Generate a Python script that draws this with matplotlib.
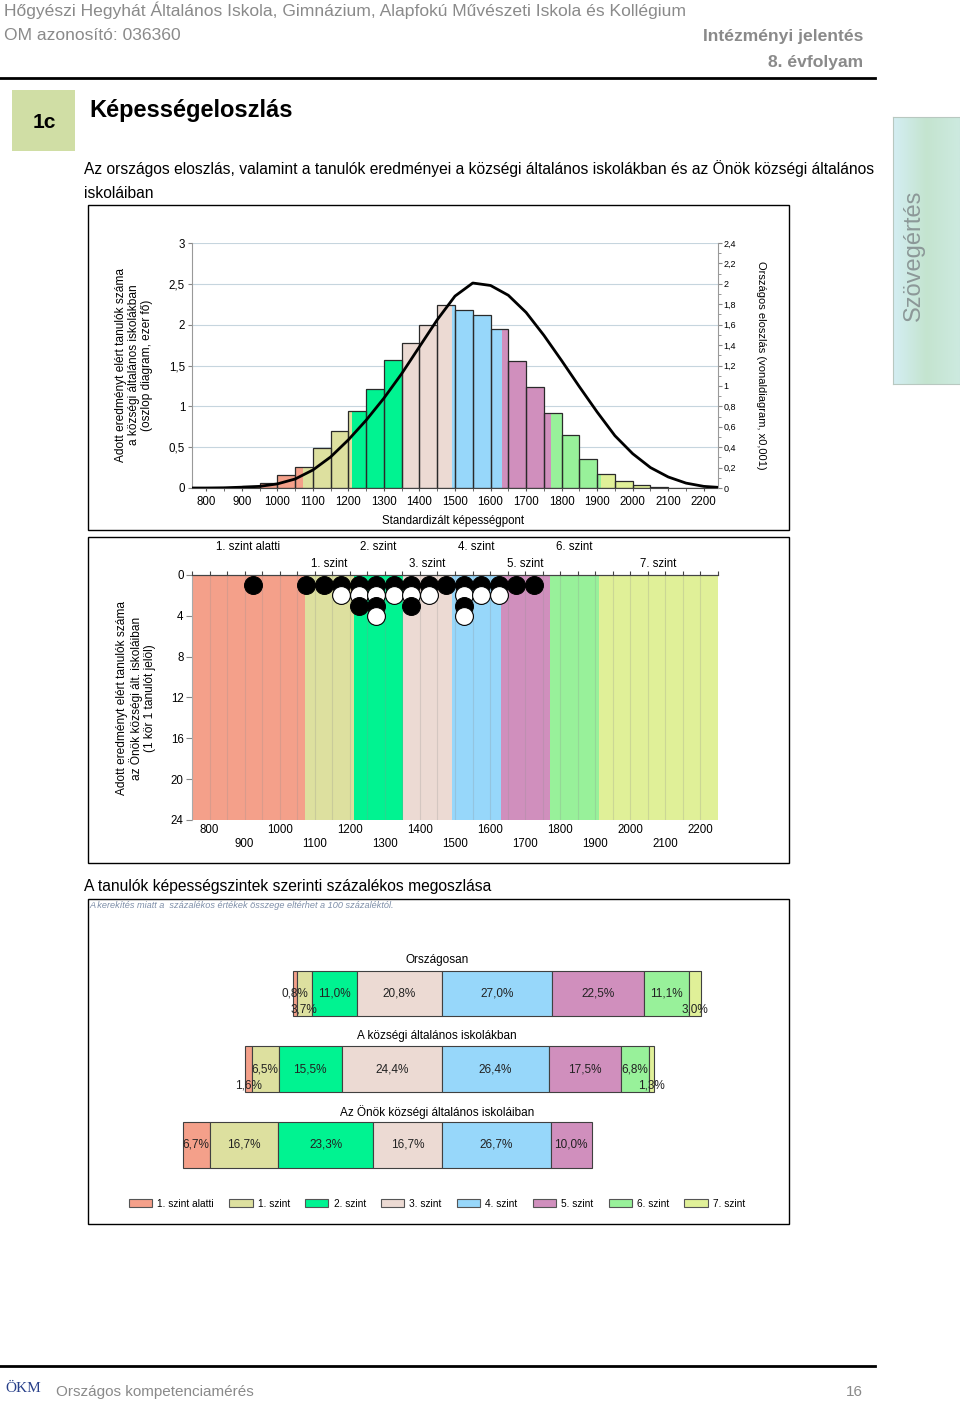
import numpy as np
import matplotlib
matplotlib.use("Agg")
import matplotlib.pyplot as plt
from matplotlib.patches import Rectangle, Patch
from matplotlib.lines import Line2D
from matplotlib.colors import LinearSegmentedColormap
from matplotlib.ticker import FuncFormatter, MultipleLocator
import matplotlib.transforms as mtrans

plt.rcParams['font.family'] = ['Liberation Sans', 'DejaVu Sans']

# ---- data ----
level_names = ['1. szint alatti', '1. szint', '2. szint', '3. szint',
               '4. szint', '5. szint', '6. szint', '7. szint']
level_colors = ['#f4a08a', '#dde09f', '#00f391', '#ecdad3',
                '#97d7fa', '#d08fbd', '#98f19a', '#e0f098']
level_bounds = [1071, 1211, 1351, 1491, 1631, 1771, 1911]

# histogram of the village schools (thousand students), 50-point bins
bin_start = list(range(900, 2200, 50))
bin_height = [0.02, 0.065, 0.16, 0.26, 0.49, 0.70, 0.94, 1.21, 1.57, 1.78,
              1.99, 2.24, 2.18, 2.12, 1.95, 1.56, 1.24, 0.92, 0.65, 0.355,
              0.175, 0.08, 0.035, 0.016, 0.006, 0.002]

# national distribution curve (right axis, x0.001)
curve_x = list(range(750, 2251, 50))
curve_y = [0.0, 0.0, 0.002, 0.008, 0.016, 0.04, 0.088, 0.176, 0.304, 0.472,
           0.664, 0.88, 1.12, 1.384, 1.648, 1.88, 2.008, 1.984, 1.888, 1.72,
           1.496, 1.248, 0.992, 0.744, 0.512, 0.336, 0.2, 0.108, 0.048, 0.016,
           0.004]

# students of the school (one circle each)
dot_x = [925, 1075, 1125, 1175, 1225, 1275, 1325, 1375, 1425, 1475,
         1525, 1575, 1625, 1675, 1725]
dot_count = [1, 1, 1, 2, 3, 4, 2, 3, 2, 1, 4, 2, 2, 1, 1]

# percentage distribution by level
row_titles = ['Országosan', 'A községi általános iskolákban',
              'Az Önök községi általános iskoláiban']
pct_orszagos = [0.8, 3.7, 11.0, 20.8, 27.0, 22.5, 11.1, 3.0]
pct_kozsegi = [1.6, 6.5, 15.5, 24.4, 26.4, 17.5, 6.8, 1.3]
pct_onok = [6.7, 16.7, 23.3, 16.7, 26.7, 10.0, 0.0, 0.0]
low_labels = [{1, 7}, {0, 7}, set()]

W, H = 960, 1409
fig = plt.figure(figsize=(W / 100, H / 100), dpi=100)


def rect(x0, y0, x1, y1):
    return [x0 / W, 1 - y1 / H, (x1 - x0) / W, (y1 - y0) / H]


def ftext(x, y, s, **kw):
    fig.text(x / W, 1 - y / H, s, **kw)


def hline(y, x0, x1, lw=2):
    fig.add_artist(Line2D([x0 / W, x1 / W], [1 - y / H] * 2, color='black', lw=lw))


def box(x0, y0, x1, y1):
    fig.add_artist(Rectangle((x0 / W, 1 - y1 / H), (x1 - x0) / W, (y1 - y0) / H,
                             transform=fig.transFigure, fill=False, lw=1, ec='black'))


comma = FuncFormatter(lambda v, p: f"{round(v, 2):g}".replace('.', ','))

# ---- page header ----
ftext(4, 10, 'Hőgyészi Hegyhát Általános Iskola, Gimnázium, Alapfokú Művészeti Iskola és Kollégium',
      fontsize=12.6, color='#8a8a8a', va='center')
ftext(4, 36, 'OM azonosító: 036360', fontsize=12.6, color='#8a8a8a', va='center')
ftext(863, 36, 'Intézményi jelentés', fontsize=12.6, color='#8a8a8a', va='center',
      ha='right', fontweight='bold')
ftext(863, 62, '8. évfolyam', fontsize=12.6, color='#8a8a8a', va='center',
      ha='right', fontweight='bold')
hline(78, 0, 875)

fig.add_artist(Rectangle((12 / W, 1 - 151 / H), 63 / W, 61 / H, transform=fig.transFigure,
                         color='#d0dea5', lw=0))
ftext(44, 122, '1c', fontsize=15, fontweight='bold', ha='center', va='center')
ftext(89, 111, 'Képességeloszlás', fontsize=17, fontweight='bold', va='center')
ftext(84, 169, 'Az országos eloszlás, valamint a tanulók eredményei a községi általános '
      'iskolákban és az Önök községi általános', fontsize=11.25, va='center')
ftext(84, 193, 'iskoláiban', fontsize=11.25, va='center')

# side tab
tab = fig.add_axes(rect(893, 117, 960, 384))
tab_cmap = LinearSegmentedColormap.from_list('tab', ['#d4eef3', '#c4e4cf', '#cdeae0'])
tab.imshow(np.linspace(0, 1, 64)[None, :], aspect='auto', cmap=tab_cmap)
tab.set_xticks([])
tab.set_yticks([])
for s in tab.spines.values():
    s.set_color('#b8c8c0')
ftext(914, 255, 'Szövegértés', fontsize=17, color='#8c9898', rotation=90,
      ha='center', va='center')

# ---- panel 1: histogram + national curve ----
box(88, 205, 789, 530)
ax = fig.add_axes(rect(192, 243, 718, 488))
for a, h in zip(bin_start, bin_height):
    cuts = [a] + [b for b in level_bounds if a < b < a + 50] + [a + 50]
    for p0, p1 in zip(cuts[:-1], cuts[1:]):
        lev = sum(1 for b in level_bounds if b <= p0)
        ax.bar(p0, h, width=p1 - p0, align='edge', color=level_colors[lev], lw=0, zorder=2)
    ax.bar(a, h, width=50, align='edge', fill=False, edgecolor='#2a2a2a', lw=0.9, zorder=3)
ax.set_xlim(760, 2240)
ax.set_ylim(0, 3)
ax.set_yticks(np.arange(0, 3.01, 0.5))
ax.yaxis.set_major_formatter(comma)
ax.set_xticks(range(800, 2201, 100))
ax.xaxis.set_minor_locator(MultipleLocator(50))
ax.grid(axis='y', color='#c6d5de', lw=0.8, zorder=0)
ax.tick_params(axis='y', labelsize=8.3, length=3, color='#888888', pad=2)
ax.tick_params(axis='x', which='both', labelsize=8.3, length=2, color='#555555', pad=4)
ax.spines['top'].set_visible(False)
ax.spines['left'].set_color('#999999')
ax.spines['right'].set_visible(False)
ax.spines['bottom'].set_color('#444444')

ax2 = ax.twinx()
ax2.plot(curve_x, curve_y, color='black', lw=2, zorder=4)
ax2.set_ylim(0, 2.4)
ax2.set_yticks(np.arange(0, 2.41, 0.2))
ax2.yaxis.set_minor_locator(MultipleLocator(0.1))
ax2.yaxis.set_major_formatter(comma)
ax2.tick_params(axis='y', labelsize=6.5, length=3, color='#888888', pad=1)
ax2.tick_params(axis='y', which='minor', length=2, color='#888888')
for s in ['top', 'left', 'bottom']:
    ax2.spines[s].set_visible(False)
ax2.spines['right'].set_color('#999999')

ftext(134, 365, 'Adott eredményt elért tanulók száma\na községi általános iskolákban\n'
      '(oszlop diagram, ezer fő)', fontsize=8.6, rotation=90, ha='center', va='center',
      multialignment='center', linespacing=1.15)
ftext(761, 365, 'Országos eloszlás (vonaldiagram, x0,001)', fontsize=8, rotation=270,
      ha='center', va='center')
ftext(453, 521, 'Standardizált képességpont', fontsize=8.3, ha='center', va='center')

# ---- panel 2: individual students ----
box(88, 537, 789, 863)
bx = fig.add_axes(rect(192, 575, 718, 820))
edges = [750] + level_bounds + [2250]
for i in range(len(level_colors)):
    bx.axvspan(edges[i], edges[i + 1], color=level_colors[i], lw=0, zorder=0)
for v in range(800, 2250, 50):
    bx.axvline(v, color='#8f8f8f', alpha=0.25, lw=0.8, zorder=1)
for x, n in zip(dot_x, dot_count):
    for k in range(1, n + 1):
        bx.scatter([x], [k], s=165, color='black' if k % 2 else 'white',
                   edgecolors='black', linewidths=0.8, zorder=3 + k)
bx.set_xlim(750, 2250)
bx.set_ylim(24, 0)
bx.set_yticks(range(0, 25, 4))
bx.set_xticks(range(800, 2201, 100))
bx.set_xticklabels([str(v) if v % 200 == 0 else '\n' + str(v) for v in range(800, 2201, 100)])
bx.tick_params(axis='x', length=0, labelsize=8.3, pad=3)
bx.tick_params(axis='y', labelsize=8.3, length=4, color='#888888', pad=2)
for s in ['right', 'bottom']:
    bx.spines[s].set_visible(False)
bx.spines['left'].set_color('#aaaaaa')
bx.spines['top'].set_color('#444444')
top = bx.secondary_xaxis('top')
top.set_xticks(range(750, 2251, 50))
top.tick_params(length=3, color='#444444', labeltop=False)
top.spines['top'].set_color('#444444')

for i, name in enumerate(level_names):
    xc = (edges[i] + edges[i + 1]) / 2
    yy = 1.115 if i % 2 == 0 else 1.045
    bx.text(xc, yy, name, transform=mtrans.blended_transform_factory(bx.transData, bx.transAxes),
            ha='center', va='center', fontsize=8.3)

ftext(136, 698, 'Adott eredményt elért tanulók száma\naz Önök községi ált. iskoláiban\n'
      '(1 kör 1 tanulót jelöl)', fontsize=8.6, rotation=90, ha='center', va='center',
      multialignment='center', linespacing=1.15)

# ---- panel 3: percentages by level ----
ftext(84, 887, 'A tanulók képességszintek szerinti százalékos megoszlása', fontsize=11.25,
      va='center')
box(88, 899, 789, 1224)
ftext(89, 905, 'A kerekítés miatt a  százalékos értékek összege eltérhet a 100 százaléktól.',
      fontsize=6.6, style='italic', color='#7d8ea8', va='center')
cx = fig.add_axes(rect(89, 900, 788, 1223))
cx.set_xlim((89 - 441.6) / 4.086, (788 - 441.6) / 4.086)
cx.set_ylim(3.03, -1.23)
cx.axis('off')
rows = [pct_orszagos, pct_kozsegi, pct_onok]
tr = mtrans.blended_transform_factory(cx.transAxes, cx.transData)
for r, vals in enumerate(rows):
    left = -sum(vals[:4])
    for i, v in enumerate(vals):
        if v <= 0:
            continue
        cx.barh(r, v, left=left, height=0.6, color=level_colors[i], edgecolor='#404040',
                lw=0.8)
        yl = r + 0.21 if i in low_labels[r] else r
        cx.text(left + v / 2, yl, f"{v:.1f}".replace('.', ',') + '%', ha='center',
                va='center', fontsize=8.5, color='#222222')
        left += v
    cx.text(0.498, r - 0.44, row_titles[r], transform=tr, ha='center', va='center',
            fontsize=8.5)

handles = [Patch(facecolor=c, edgecolor='#555555', lw=0.8) for c in level_colors]
cx.legend(handles, level_names, loc='center', bbox_to_anchor=(0.498, 0.06), ncol=8,
          frameon=False, fontsize=7.3, handlelength=2.3, handleheight=0.9,
          handletextpad=0.5, columnspacing=1.5)

# ---- footer ----
hline(1366, 0, 875)
ftext(5, 1389, 'ÖKM', fontsize=11, color='#28408a', family='Liberation Serif', va='center')
ftext(56, 1392, 'Országos kompetenciamérés', fontsize=11, color='#8a8a8a', va='center')
ftext(863, 1392, '16', fontsize=11, color='#8a8a8a', va='center', ha='right')

fig.savefig('out.png', dpi=100)
